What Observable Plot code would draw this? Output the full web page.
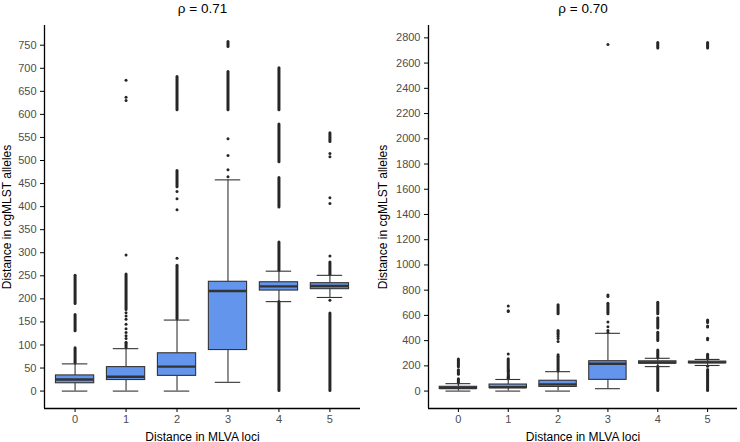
<!DOCTYPE html>
<html>
<head>
<meta charset="utf-8">
<script src="https://cdn.jsdelivr.net/npm/d3@7"></script>
<script src="https://cdn.jsdelivr.net/npm/@observablehq/plot@0.6"></script>
<style>
  html, body { margin: 0; padding: 0; background: white; }
  #wrap { display: flex; width: 740px; height: 442px; }
  #wrap svg { display: block; }
</style>
</head>
<body>
<div id="wrap"></div>
<script>
// ---- Data (box statistics per MLVA-distance category) ----
const categories   = [0, 1, 2, 3, 4, 5];
const lowerWhisker = [0, 0, 0, 19, 194, 203];
const q1           = [17, 24, 33, 89, 218, 221];
const median       = [25, 31, 53, 217, 227, 228];
const q3           = [34, 52, 82, 237, 236, 234];
const upperWhisker = [59, 92, 154, 458, 260, 251];

// Dense runs of outliers (drawn as a continuous column of dots): category, low, high
const runCat = [0, 0, 0, 1, 1, 2, 2, 2, 3, 3, 4, 4, 4, 4, 4, 5, 5, 5];
const runLo  = [60, 130, 189, 93, 176, 156, 442, 609, 609, 746, 0, 261, 398, 496, 609, 0, 252, 540];
const runHi  = [93, 165, 250, 102, 253, 272, 477, 681, 692, 757, 193, 322, 462, 578, 700, 168, 279, 559];

// Isolated outliers: category, value
const pointCat = [1, 1, 1, 1, 1, 1, 1, 1, 1, 1, 1, 1, 1, 2, 2, 2, 2, 3, 3, 3, 3, 5, 5, 5, 5, 5, 5];
const pointVal = [106, 114, 120, 127, 135, 145, 156, 163, 170, 295, 630, 637, 674, 288, 393, 417, 433, 465, 480, 511, 547, 197, 293, 407, 419, 508, 515];

// Extra outliers present only in the second panel
const extraRunCat = [4, 5];
const extraRunLo  = [2716, 2716];
const extraRunHi  = [2760, 2760];
const extraPointCat = [3];
const extraPointVal = [2748];

const titles = ["ρ = 0.71", "ρ = 0.70"];
const leftTicks  = d3.range(0, 751, 50);
const rightTicks = d3.range(0, 2801, 200);
const xLabel = "Distance in MLVA loci";
const yLabel = "Distance in cgMLST alleles";

// ---- Build tables ----
const boxes = categories.map((c, i) => ({cat: c, lw: lowerWhisker[i], q1: q1[i], med: median[i], q3: q3[i], uw: upperWhisker[i]}));
const runs = runCat.map((c, i) => ({cat: c, lo: runLo[i], hi: runHi[i]}));
const points = pointCat.map((c, i) => ({cat: c, v: pointVal[i]}));
const runs2 = runs.concat(extraRunCat.map((c, i) => ({cat: c, lo: extraRunLo[i], hi: extraRunHi[i]})));
const points2 = points.concat(extraPointCat.map((c, i) => ({cat: c, v: extraPointVal[i]})));

const BOX_FILL = "#6495ED";
const LINE = "#333333";
const DOT = "#262626";

function panel({title, yDomain, yTicks, marginLeft, marginRight, runs, points, yLabelOffset}) {
  return Plot.plot({
    width: 370,
    height: 442,
    marginTop: 25,
    marginBottom: 34,
    marginLeft,
    marginRight,
    style: {fontFamily: "'Liberation Sans', Arial, Helvetica, sans-serif", background: "white", color: "black"},
    x: {type: "linear", domain: [-0.6, 5.6]},
    y: {domain: yDomain},
    marks: [
      // outliers
      Plot.ruleX(runs, {x: "cat", y1: "lo", y2: "hi", stroke: DOT, strokeWidth: 3, strokeLinecap: "round"}),
      Plot.dot(points, {x: "cat", y: "v", r: 1.5, fill: DOT, stroke: "none"}),
      // whiskers
      Plot.ruleX(boxes, {x: "cat", y1: "lw", y2: "q1", stroke: LINE, strokeWidth: 1.1}),
      Plot.ruleX(boxes, {x: "cat", y1: "q3", y2: "uw", stroke: LINE, strokeWidth: 1.1}),
      Plot.ruleY(boxes, {y: "lw", x1: d => d.cat - 0.25, x2: d => d.cat + 0.25, stroke: LINE, strokeWidth: 1.1}),
      Plot.ruleY(boxes, {y: "uw", x1: d => d.cat - 0.25, x2: d => d.cat + 0.25, stroke: LINE, strokeWidth: 1.1}),
      // boxes
      Plot.rect(boxes, {x1: d => d.cat - 0.375, x2: d => d.cat + 0.375, y1: "q1", y2: "q3", fill: BOX_FILL, stroke: LINE, strokeWidth: 1.1}),
      Plot.ruleY(boxes, {y: "med", x1: d => d.cat - 0.375, x2: d => d.cat + 0.375, stroke: LINE, strokeWidth: 2.4}),
      // axis lines
      Plot.ruleY([yDomain[0]], {stroke: "black", strokeWidth: 1.3}),
      Plot.ruleX([-0.6], {stroke: "black", strokeWidth: 1.3}),
      // axes
      Plot.axisX({ticks: categories, tickFormat: d => String(d), tickSize: 4, tickPadding: 3, fontSize: 11, fill: "#4d4d4d", stroke: "black", label: null}),
      Plot.axisX({ticks: [], label: xLabel, labelAnchor: "center", labelArrow: "none", labelOffset: 32, fontSize: 12, fill: "black"}),
      Plot.axisY({ticks: yTicks, tickFormat: d => String(d), tickSize: 4, tickPadding: 4, fontSize: 11, fill: "#4d4d4d", stroke: "black", label: null}),
      Plot.axisY({ticks: [], label: yLabel, labelAnchor: "center", labelArrow: "none", labelOffset: yLabelOffset, fontSize: 12, fill: "black"}),
      // title
      Plot.text([title], {text: d => d, frameAnchor: "top", lineAnchor: "middle", dy: -17, fontSize: 13.5, fill: "black"})
    ]
  });
}

const wrap = document.getElementById("wrap");
wrap.appendChild(panel({title: titles[0], yDomain: [-37.75, 792.75], yTicks: leftTicks, marginLeft: 44, marginRight: 10, runs, points, yLabelOffset: 42}));
wrap.appendChild(panel({title: titles[1], yDomain: [-138, 2898], yTicks: rightTicks, marginLeft: 58, marginRight: 3, runs: runs2, points: points2, yLabelOffset: 50}));
</script>
</body>
</html>
